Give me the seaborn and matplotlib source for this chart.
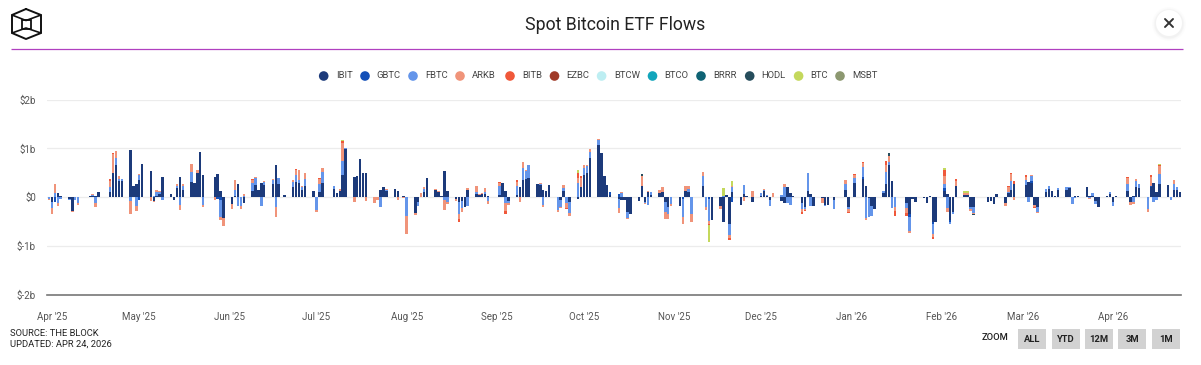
import numpy as np
import pandas as pd
import matplotlib
matplotlib.use("Agg")
import matplotlib.pyplot as plt
from matplotlib.patches import Circle, Rectangle
import seaborn as sns

# one row per week, Monday to Friday, from 2025-03-31 ($b)
ibit = [
    0, -.1, 0, .08, .03,
    -.03, -.28, 0, 0, .01,
    .02, .03, .03, .1, 0,
    .1, .5, .65, .33, .33,
    .97, .22, .27, .35, .68,
    .53, -.07, .03, .06, .42,
    .07, -.05, .18, .42, .15,
    .32, .3, .5, .93, .45,
    0, .42, .48, .12, -.42,
    -.13, .02, .28, 0, -.12,
    .12, .26, .15, .3, .25,
    .27, .65, .27, 0, .05,
    .2, .32, .3, .15, .22,
    .12, 0, .1, .3, 0,
    .17, .08, .13, .45, .98,
    .42, .43, .78, .5, .5,
    0, 0, .15, .2, .12,
    .17, .13, 0, .03, 0,
    -.33, -.1, 0, .1, .4,
    .14, .1, .02, .53, .12,
    -.03, -.1, -.07, -.2, .15,
    .07, .05, .06, .07, .02,
    0, .05, .3, .13, -.08,
    .05, .2, .35, .38, .4,
    .28, .25, .15, .12, .25,
    0, -.05, .12, 0, -.1,
    -.03, .2, .45, .5, .8,
    1.07, .9, .43, .26, .05,
    -.03, -.05, -.05, -.3, -.35,
    -.08, .23, -.1, .1, .05,
    .09, .1, -.1, -.2, 0,
    -.18, 0, .12, .1, 0,
    .01, .23, 0, 0, -.47,
    -.17, -.5, .05, -.55, .1,
    -.15, .07, .03, 0, -.1,
    .03, .12, .03, -.05, 0,
    -.07, -.12, .2, .08, .02,
    -.12, -.2, .12, .07, -.17,
    -.02, -.15, -.15, 0, -.05,
    .01, .15, -.2, 0, .3,
    .38, .23, -.02, -.18, -.25,
    .08, .27, .65, .33, 0,
    0, -.12, -.35, -.03, -.1,
    -.02, -.12, .03, -.5, -.5,
    .13, .07, -.47, -.3, .23,
    .04, .04, -.2, -.2, .01,
    0, -.1, -.08, -.14, .07,
    -.12, .08, .15, .28, 0,
    .25, .32, .3, -.15, -.2,
    .1, .17, .13, .03, .15,
    .15, .18, 0, .02, .02,
    .2, .03, .03, -.08, -.2,
    .02, .07, -.1, .02, 0,
    .12, -.1, .03, .2, .18,
    0, .2, .3, .1, .28,
    .25, 0, .15, .15, .1,
]
fbtc = [
    -.03, -.12, .08, -.12, -.03,
    -.03, 0, -.05, -.12, 0,
    0, .02, -.12, 0, 0,
    .1, 0, .15, .04, .05,
    -.08, 0, -.18, .1, 0,
    0, .03, .07, .04, -.05,
    0, 0, .05, -.15, .08,
    .2, 0, 0, 0, -.15,
    0, 0, 0, -.35, 0,
    0, .12, -.18, -.17, .03,
    .17, .13, 0, -.18, .06,
    .09, -.2, .12, 0, 0,
    .12, .13, .05, .05, .15,
    0, -.26, .17, .22, 0,
    .05, 0, 0, .3, .02,
    0, 0, 0, 0, 0,
    0, 0, -.2, 0, .03,
    0, 0, 0, 0, -.38,
    0, -.08, 0, .06, 0,
    0, 0, 0, -.05, -.1,
    0, -.25, -.15, 0, -.18,
    .03, 0, 0, .03, -.08,
    0, .17, 0, -.12, -.03,
    .17, 0, .25, .15, .25,
    0, .03, -.15, 0, 0,
    -.27, -.15, .06, -.12, -.23,
    .3, 0, .15, .13, .13,
    .1, 0, 0, 0, 0,
    -.2, .08, 0, -.12, 0,
    0, 0, -.02, -.15, .05,
    0, 0, -.2, -.15, -.14,
    0, -.37, 0, .07, -.35,
    0, .2, -.2, -.45, 0,
    0, .03, 0, -.22, .1,
    0, .18, 0, 0, 0,
    .05, .03, .02, -.13, 0,
    .04, .2, -.12, -.15, 0,
    -.12, -.05, .38, -.18, 0,
    0, -.02, 0, 0, -.2,
    0, .12, -.05, 0, .1,
    .2, -.42, -.38, -.2, 0,
    .05, .25, .07, -.23, -.2,
    0, -.1, -.3, 0, 0,
    0, 0, 0, -.2, 0,
    .1, -.22, -.03, -.05, 0,
    0, 0, -.05, -.12, 0,
    0, 0, 0, 0, 0,
    0, .02, .18, 0, 0,
    .1, -.1, .1, 0, -.1,
    .06, .06, 0, 0, .03,
    .05, .02, -.13, -.02, 0,
    0, -.02, .05, -.05, 0,
    0, .03, -.07, 0, 0,
    .15, 0, -.1, .13, .1,
    -.25, 0, -.1, -.05, .2,
    0, -.05, .13, .05, 0,
]
arkb = [
    -.03, -.13, .2, -.05, 0,
    0, -.02, 0, -.03, 0,
    .01, .01, -.08, 0, 0,
    .14, .38, .15, .07, 0,
    -.26, 0, -.1, .03, 0,
    -.07, -.03, .05, .03, 0,
    0, 0, .04, -.12, .05,
    .16, 0, .05, 0, -.05,
    0, -.05, 0, -.07, -.16,
    -.12, .22, 0, -.08, .04,
    .07, .03, 0, 0, .02,
    .02, -.2, 0, 0, 0,
    .03, .1, .2, .03, .13,
    0, -.04, .1, .08, 0,
    0, 0, .04, .35, 0,
    -.1, 0, 0, 0, -.08,
    -.12, -.05, 0, 0, .02,
    0, -.05, 0, -.02, -.37,
    -.03, 0, .08, .04, 0,
    .02, .02, 0, -.22, -.03,
    -.05, -.1, -.08, 0, .03,
    .12, .02, .02, .08, -.06,
    0, .08, 0, -.17, -.04,
    .1, -.1, .13, .02, 0,
    0, .02, -.05, 0, 0,
    -.03, -.02, .07, -.1, -.05,
    .1, .2, .05, .02, .05,
    .03, 0, 0, 0, 0,
    -.1, .02, 0, -.03, 0,
    0, .2, -.02, .03, 0,
    .06, .1, -.15, -.1, -.03,
    0, -.13, .1, .05, -.15,
    0, .09, -.07, -.05, 0,
    -.08, 0, 0, -.07, .03,
    0, -.08, 0, 0, .12,
    0, .02, 0, 0, .08,
    0, .08, 0, 0, 0,
    -.06, -.02, 0, 0, 0,
    -.1, 0, 0, 0, 0,
    0, .08, -.05, 0, .05,
    .1, -.04, 0, 0, 0,
    0, .13, .13, 0, -.08,
    0, -.1, -.03, 0, 0,
    0, 0, 0, -.06, 0,
    .15, -.08, 0, 0, .1,
    .05, .05, -.03, -.03, 0,
    0, 0, 0, 0, 0,
    -.05, .1, .15, -.05, 0,
    .07, 0, .03, -.05, -.03,
    0, 0, 0, 0, 0,
    0, 0, 0, 0, 0,
    0, -.02, 0, 0, 0,
    0, 0, 0, 0, 0,
    .13, -.05, -.04, .05, 0,
    -.05, .18, 0, 0, .15,
    0, 0, .07, 0, 0,
]

# the smaller funds only show on a few days
gbtc_days = ["2025-04-02", "2025-05-01", "2025-05-28", "2025-10-10", "2025-11-21", "2025-10-13",
             "2025-05-29", "2026-01-05", "2026-02-02", "2026-04-14", "2025-11-04", "2025-11-13",
             "2026-01-21", "2026-01-29", "2026-02-04", "2026-03-04"]
gbtc_vals = [-.1, -.05, -.03, .05, -.1, .07, -.05, .03, .05, .04, -.04, -.04, -.05, -.05, -.04, .03]
bitb_days = ["2025-04-21", "2025-04-22", "2025-06-09", "2025-06-24", "2025-07-02", "2025-07-10", "2025-08-19",
             "2025-09-02", "2025-09-04", "2025-09-08", "2025-09-25", "2025-09-29", "2025-09-30", "2025-11-13",
             "2025-11-20", "2025-12-15", "2025-12-16", "2025-12-31", "2026-01-02", "2026-01-05", "2026-01-13",
             "2026-01-16", "2026-01-20", "2026-01-29", "2026-02-02", "2026-02-06", "2026-02-24", "2026-02-25",
             "2026-02-26", "2026-03-02", "2026-03-05", "2026-04-06", "2026-04-14", "2026-04-17"]
bitb_vals = [.03, .02, .02, .03, .03, .05, -.05,
             .02, -.06, .03, -.03, .1, .03, -.03,
             -.03, -.05, -.01, -.03, .02, .02, .1,
             -.1, -.06, -.04, .12, .04, .02, .02,
             .05, .03, -.02, .02, .04, .02]
btc_days = ["2025-07-10", "2025-09-29", "2025-11-13", "2025-11-18", "2025-11-21", "2026-02-02", "2026-02-09",
            "2026-02-10", "2026-04-17"]
btc_vals = [.03, .05, -.35, .15, .1, .05, .03, .04, .03]
hodl_days = ["2025-10-21", "2026-01-14", "2026-02-12"]
hodl_vals = [.05, .05, -.02]
no_days = []
no_vals = []

funds = ["IBIT", "GBTC", "FBTC", "ARKB", "BITB", "EZBC", "BTCW", "BTCO", "BRRR", "HODL", "BTC", "MSBT"]
colors = ["#1c3a7a", "#1450b8", "#6495ea", "#f0947a", "#f0583a", "#a03a28",
          "#bdeef2", "#12a5bb", "#0f6374", "#264d5c", "#c4d85c", "#8c9870"]

y_ticks = [2, 1, 0, -1, -2]
y_labels = ["$2b", "$1b", "$0", "$-1b", "$-2b"]
month_starts = ["2025-04-01", "2025-05-01", "2025-06-01", "2025-07-01", "2025-08-01", "2025-09-01", "2025-10-01",
                "2025-11-01", "2025-12-01", "2026-01-01", "2026-02-01", "2026-03-01", "2026-04-01"]
month_labels = ["Apr '25", "May '25", "Jun '25", "Jul '25", "Aug '25", "Sep '25", "Oct '25",
                "Nov '25", "Dec '25", "Jan '26", "Feb '26", "Mar '26", "Apr '26"]
zoom_labels = ["ALL", "YTD", "12M", "3M", "1M"]

days = pd.bdate_range("2025-03-31", periods=len(ibit))
origin = pd.Timestamp("2025-04-01")
day_num = np.array((days - origin).days, dtype=float)


def sparse(when, vals):
    s = pd.Series(0.0, index=days)
    s.loc[pd.to_datetime(when)] = vals
    return s.values


series = {
    "IBIT": np.array(ibit, dtype=float),
    "GBTC": sparse(gbtc_days, gbtc_vals),
    "FBTC": np.array(fbtc, dtype=float),
    "ARKB": np.array(arkb, dtype=float),
    "BITB": sparse(bitb_days, bitb_vals),
    "EZBC": sparse(no_days, no_vals),
    "BTCW": sparse(no_days, no_vals),
    "BTCO": sparse(no_days, no_vals),
    "BRRR": sparse(no_days, no_vals),
    "HODL": sparse(hodl_days, hodl_vals),
    "BTC": sparse(btc_days, btc_vals),
    "MSBT": sparse(no_days, no_vals),
}

sns.set_theme(style="white")
plt.rcParams["font.family"] = ["Roboto", "DejaVu Sans"]

W, H = 1201, 365
fig = plt.figure(figsize=(W / 100, H / 100), dpi=100, facecolor="white")
ax = fig.add_axes([47 / W, 1 - 295 / H, (1181 - 47) / W, (295 - 99.5) / H])

pos_base = np.zeros(len(days))
neg_base = np.zeros(len(days))
for name, col in zip(funds, colors):
    v = series[name]
    if not v.any():
        continue
    up = np.clip(v, 0, None)
    down = np.clip(v, None, 0)
    sns.barplot(x=day_num, y=up, bottom=pos_base, native_scale=True, width=0.85,
                color=col, saturation=1, errorbar=None, linewidth=0, ax=ax)
    sns.barplot(x=day_num, y=down, bottom=neg_base, native_scale=True, width=0.85,
                color=col, saturation=1, errorbar=None, linewidth=0, ax=ax)
    pos_base = pos_base + up
    neg_base = neg_base + down

ax.set_xlim(-1.72, 388.4)
ax.set_ylim(-2, 2)
ax.set_yticks(y_ticks)
ax.set_yticklabels(y_labels)
ax.set_xticks((pd.to_datetime(month_starts) - origin).days)
ax.set_xticklabels(month_labels)
ax.set_xlabel("")
ax.set_ylabel("")
ax.tick_params(axis="both", length=0, labelsize=7, labelcolor="#555555")
ax.tick_params(axis="x", pad=12)
ax.tick_params(axis="y", pad=8)
ax.yaxis.grid(True, color="#ececec", linewidth=0.9)
ax.xaxis.grid(False)
ax.set_axisbelow(True)
sns.despine(ax=ax, left=True, top=True, right=True)
ax.spines["bottom"].set_color("#777777")
ax.spines["bottom"].set_linewidth(1.2)

# everything around the plot is placed in pixels on a full size overlay
ov = fig.add_axes([0, 0, 1, 1], zorder=5)
ov.set_xlim(0, W)
ov.set_ylim(H, 0)
ov.axis("off")

ov.text(615, 25, "Spot Bitcoin ETF Flows", ha="center", va="center", fontsize=12.7, color="#222222")
ov.plot([11, 1183], [49, 49], color="#b040c0", lw=0.9, solid_capstyle="butt")

# logo
hexx = [26, 41, 41, 26, 12, 12, 26]
hexy = [9, 15, 33, 39, 33, 15, 9]
ov.plot(hexx, hexy, color="#111111", lw=1.4)
ov.add_patch(Rectangle((21.7, 20), 9, 8.5, fill=False, ec="#111111", lw=1.3))
ov.plot([12, 26, 41], [15, 20.5, 15], color="#111111", lw=1.2)
ov.plot([12, 26, 41], [33, 28, 33], color="#111111", lw=1.2)

# close button
for r, a in [(17, .02), (15.5, .03), (14.5, .05)]:
    ov.add_patch(Circle((1169, 24), r, fc="#888888", ec="none", alpha=a))
ov.add_patch(Circle((1169, 23), 13, fc="white", ec="none"))
ov.plot([1165, 1173], [19, 27], color="#333333", lw=1.4)
ov.plot([1165, 1173], [27, 19], color="#333333", lw=1.4)

# legend
dot_x = [323.7, 365, 413, 460, 510, 554.5, 601.6, 652.5, 701, 749.7, 798.6, 840]
text_x = [336.4, 376.5, 425.5, 472, 522, 566, 614, 664, 713, 761, 810, 852]
for name, col, dx, tx in zip(funds, colors, dot_x, text_x):
    ov.add_patch(Circle((dx, 76), 4.8, fc=col, ec="none"))
    ov.text(tx, 76, name, ha="left", va="center", fontsize=6.8, color="#444444")

ov.text(10, 333, "SOURCE: THE BLOCK", ha="left", va="center", fontsize=6.75, color="#222222")
ov.text(10, 344, "UPDATED: APR 24, 2026", ha="left", va="center", fontsize=6.75, color="#222222")

ov.text(982, 338, "ZOOM", ha="left", va="center", fontsize=6.75, fontweight="medium", color="#222222")
for lab, x0 in zip(zoom_labels, [1018, 1052, 1085, 1118, 1152]):
    ov.add_patch(Rectangle((x0, 329), 28, 20, fc="#d2d2d2", ec="none"))
    ov.text(x0 + 14, 339.5, lab, ha="center", va="center", fontsize=6.75, fontweight="bold", color="#222222")

fig.savefig("out.png", dpi=100)
